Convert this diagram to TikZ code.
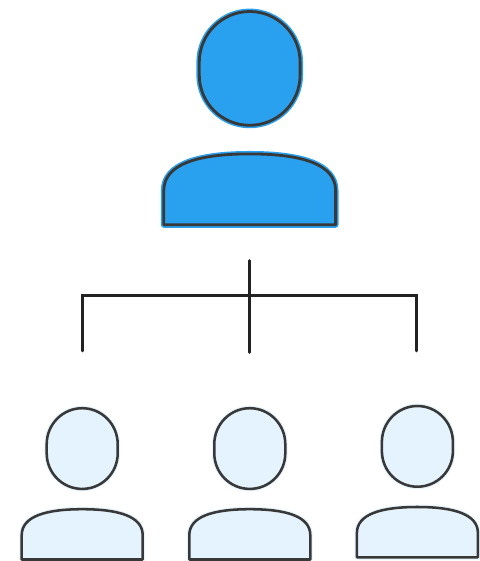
\documentclass[tikz,border=0pt]{standalone}
\definecolor{inkline}{HTML}{383838}
\definecolor{barline}{HTML}{222222}
\definecolor{bossfill}{HTML}{2AA1EE}
\definecolor{teamfill}{HTML}{E4F3FD}
\tikzset{
  x=0.75pt,y=-0.75pt,
  person/.pic={
    \def\headpath{(-35.5,36) -- (-35.5,45) .. controls (-35.5,65) and (-19.5,80.7) .. (0,80.7) .. controls (19.5,80.7) and (35.5,65) .. (35.5,45) -- (35.5,36) .. controls (35.5,16) and (19.5,0) .. (0,0) .. controls (-19.5,0) and (-35.5,16) .. (-35.5,36) -- cycle}
    \def\bodypath{(-60.5,151.3) -- (-60.5,127) .. controls (-60.5,108) and (-36,101) .. (0,101) .. controls (36,101) and (60.5,108) .. (60.5,127) -- (60.5,151.3) -- cycle}
    \draw[pic actions,draw=\personhalo,line width=\personhalow,line join=round] \headpath;
    \draw[pic actions,draw=\personhalo,line width=\personhalow,line join=round] \bodypath;
    \draw[draw=inkline,line width=\personink,line join=round] \headpath;
    \draw[draw=inkline,line width=\personink,line join=round] \bodypath;
  },
  boss/.style={fill=bossfill},
  team/.style={fill=teamfill},
  bar/.style={draw=barline,line width=1.9pt,line cap=round,line join=miter},
}
\begin{document}
\begin{tikzpicture}
\useasboundingbox (0,0) rectangle (479,561);
% leader
\def\personhalo{bossfill}\def\personhalow{4.4pt}\def\personink{2.1pt}
\pic[boss,xscale=1.42,yscale=1.41] at (249.7,11.5) {person};
% team
\def\personhalo{teamfill}\def\personhalow{3.6pt}\def\personink{1.9pt}
\pic[team] at (82.2,408.2) {person};
\pic[team] at (249.8,408.2) {person};
\pic[team] at (417.4,406) {person};
% connectors
\coordinate (stemtop) at (249.6,260.5);
\coordinate (stembottom) at (249.6,352.5);
\coordinate (barleft) at (82.7,295.5);
\coordinate (barright) at (416.7,295.5);
\coordinate (dropleft) at (82.7,351);
\coordinate (dropright) at (416.7,351);
\draw[bar] (stemtop) -- (stembottom);
\draw[bar] (dropleft) -- (barleft) -- (barright) -- (dropright);
\end{tikzpicture}
\end{document}
